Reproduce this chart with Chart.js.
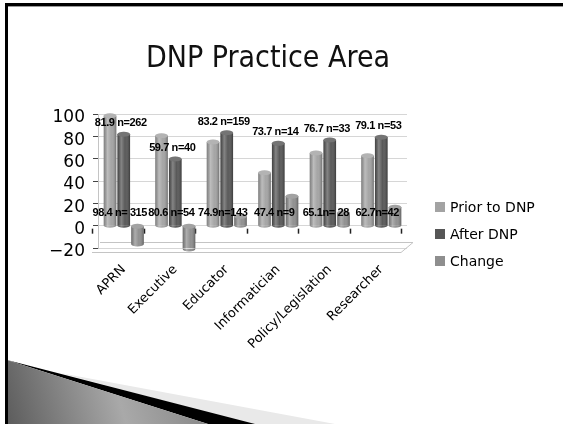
<!DOCTYPE html>
<html>
<head>
<meta charset="utf-8">
<script src="https://cdn.jsdelivr.net/npm/chart.js@4/dist/chart.umd.min.js"></script>
<style>
  html, body { margin: 0; padding: 0; background: #fff; }
  #wrap { position: relative; width: 563px; height: 424px; overflow: hidden; }
  #c { position: absolute; left: 0; top: 0; }
  #title {
    position: absolute; left: 0; top: 40px; width: 536px; text-align: center;
    font: 30px "DejaVu Sans Condensed", "DejaVu Sans", sans-serif; color: #111; line-height: 34px;
  }
  #legend { position: absolute; left: 435px; top: 193px; font: 14px "DejaVu Sans", sans-serif; color: #000; }
  .li { display: flex; align-items: center; height: 27px; }
  .sw { width: 10px; height: 10px; margin-right: 5px; }
</style>
</head>
<body>
<div id="wrap">
  <canvas id="c" width="563" height="424"></canvas>
  <div id="title">DNP Practice Area</div>
  <div id="legend"></div>
</div>
<script>
// Practice areas and percentages before / after the DNP
const categories = ['APRN', 'Executive', 'Educator', 'Informatician', 'Policy/Legislation', 'Researcher'];
const priorToDNP = [98.4, 80.6, 74.9, 47.4, 65.1, 62.7];
const afterDNP   = [81.9, 59.7, 83.2, 73.7, 76.7, 79.1];
const change     = [-16.5, -20.9, 8.3, 26.3, 11.6, 16.4];
const priorN     = [315, 54, 143, 9, 28, 42];
const afterN     = [262, 40, 159, 14, 33, 53];
const priorSep   = [' n= ', ' n=', 'n=', ' n=', 'n= ', 'n='];
const afterSep   = [' n=', ' n=', ' n=', ' n=', ' n=', ' n='];
const yTicks     = [-20, 0, 20, 40, 60, 80, 100];
const seriesNames  = ['Prior to DNP', 'After DNP', 'Change'];
const seriesColors = ['#a3a3a3', '#565656', '#8e8e8e'];
const priorLabelLevel = 11;

// slide frame and the shaded wedge in the lower-left corner
const slideDecor = {
  id: 'slideDecor',
  beforeDraw(chart) {
    const c = chart.ctx;
    c.save();
    // light sliver
    c.beginPath();
    c.moveTo(60, 373); c.lineTo(335, 424); c.lineTo(250, 424); c.closePath();
    c.fillStyle = '#e9e9e9'; c.fill();
    // black band
    c.beginPath();
    c.moveTo(7, 360); c.lineTo(255, 424); c.lineTo(208, 424); c.closePath();
    c.fillStyle = '#000'; c.fill();
    // grey gradient wedge
    const g = c.createLinearGradient(7, 424, 190, 370);
    g.addColorStop(0, '#5c5c5c'); g.addColorStop(0.6, '#a9a9a9'); g.addColorStop(1, '#8a8a8a');
    c.beginPath();
    c.moveTo(7, 360); c.lineTo(208, 424); c.lineTo(7, 424); c.closePath();
    c.fillStyle = g; c.fill();
    // frame
    c.fillStyle = '#000';
    c.fillRect(5, 3, 558, 3);
    c.fillRect(5, 3, 3, 421);
    c.fillStyle = '#9a9a9a';
    c.fillRect(8, 6, 555, 1);
    c.restore();
  }
};

// floor slab under the bars and zero-level tick marks
const floorAndTicks = {
  id: 'floorAndTicks',
  beforeDatasetsDraw(chart) {
    const c = chart.ctx, xs = chart.scales.x, ys = chart.scales.y, a = chart.chartArea;
    const yf = ys.getPixelForValue(-20);
    c.save();
    c.strokeStyle = '#c4c4c4'; c.lineWidth = 1;
    c.beginPath();
    c.moveTo(a.left - 6, yf + 4.5); c.lineTo(a.right - 6, yf + 4.5);
    c.lineTo(a.right + 6, yf - 5.5); c.lineTo(a.left + 2, yf - 5.5);
    c.stroke();
    const step = xs.getPixelForValue(1) - xs.getPixelForValue(0);
    const y0 = ys.getPixelForValue(0);
    c.strokeStyle = '#222'; c.lineWidth = 1.5;
    for (let i = 0; i <= categories.length; i++) {
      const x = Math.round(xs.getPixelForValue(0) - step / 2 + i * step - 6) + 0.5;
      c.beginPath(); c.moveTo(x, y0 + 3); c.lineTo(x, y0 + 8); c.stroke();
    }
    c.restore();
  }
};

// rounded, shaded look for each bar
const cylinders = {
  id: 'cylinders',
  afterDatasetsDraw(chart) {
    const c = chart.ctx;
    chart.data.datasets.forEach((ds, di) => {
      chart.getDatasetMeta(di).data.forEach(bar => {
        const p = bar.getProps(['x', 'y', 'base', 'width'], true);
        const l = p.x - p.width / 2, r = p.x + p.width / 2;
        const top = Math.min(p.y, p.base), bot = Math.max(p.y, p.base);
        const rx = p.width / 2, ry = 2.5;
        c.save();
        const g = c.createLinearGradient(l, 0, r, 0);
        g.addColorStop(0, 'rgba(0,0,0,0.22)');
        g.addColorStop(0.3, 'rgba(255,255,255,0.28)');
        g.addColorStop(0.6, 'rgba(255,255,255,0.02)');
        g.addColorStop(1, 'rgba(0,0,0,0.32)');
        c.fillStyle = ds.backgroundColor;
        c.beginPath(); c.ellipse(p.x, bot, rx, ry, 0, 0, Math.PI); c.fill();
        c.fillStyle = g;
        c.beginPath();
        c.moveTo(l, top); c.lineTo(l, bot); c.ellipse(p.x, bot, rx, ry, 0, Math.PI, 0, true); c.lineTo(r, top); c.closePath();
        c.fill();
        c.fillStyle = ds.backgroundColor;
        c.beginPath(); c.ellipse(p.x, top, rx, ry, 0, 0, 2 * Math.PI); c.fill();
        c.fillStyle = 'rgba(255,255,255,0.18)';
        c.fill();
        c.restore();
      });
    });
  }
};

// value / count captions
const valueLabels = {
  id: 'valueLabels',
  afterDatasetsDraw(chart) {
    const c = chart.ctx, xs = chart.scales.x, ys = chart.scales.y;
    c.save();
    c.font = 'bold 11px "Liberation Sans", Arial, sans-serif';
    c.letterSpacing = '-0.4px';
    c.fillStyle = '#000'; c.textAlign = 'center'; c.textBaseline = 'middle';
    categories.forEach((cat, i) => {
      const cx = xs.getPixelForValue(i);
      c.fillText(afterDNP[i].toFixed(1) + afterSep[i] + afterN[i], cx - 3, ys.getPixelForValue(afterDNP[i]) - 11);
      c.fillText(priorToDNP[i].toFixed(1) + priorSep[i] + priorN[i], cx - 4, ys.getPixelForValue(priorLabelLevel));
    });
    c.restore();
  }
};

const fmtTick = v => (v < 0 ? '\u2212' + Math.abs(v) : String(v));
const seriesData = [priorToDNP, afterDNP, change];

const chart = new Chart(document.getElementById('c'), {
  type: 'bar',
  data: {
    labels: categories,
    datasets: seriesNames.map((name, i) => ({
      label: name, data: seriesData[i], backgroundColor: seriesColors[i], borderWidth: 0
    }))
  },
  options: {
    responsive: false,
    animation: false,
    layout: { padding: { left: 0, right: 156, top: 114, bottom: 0 } },
    datasets: { bar: { categoryPercentage: 0.8, barPercentage: 0.92 } },
    plugins: { legend: { display: false }, title: { display: false }, tooltip: { enabled: false } },
    scales: {
      y: {
        min: -20, max: 100,
        afterBuildTicks: s => { s.ticks = yTicks.map(v => ({ value: v })); },
        afterFit: s => { s.width = 98; },
        ticks: { font: { family: 'DejaVu Sans', size: 17 }, color: '#000', padding: 8, labelOffset: 4, autoSkip: false, callback: v => fmtTick(v) },
        grid: { color: '#d6d6d6', tickColor: '#444', tickLength: 5 },
        border: { color: '#c4c4c4' }
      },
      x: {
        afterFit: s => { s.height = 176; },
        ticks: { font: { family: 'DejaVu Sans', size: 13 }, color: '#000', minRotation: 45, maxRotation: 45, padding: 14, autoSkip: false },
        grid: { display: false, drawTicks: false },
        border: { display: false }
      }
    }
  },
  plugins: [slideDecor, floorAndTicks, cylinders, valueLabels]
});

// legend from the series names and colours
const lg = document.getElementById('legend');
seriesNames.forEach((n, i) => {
  const row = document.createElement('div'); row.className = 'li';
  const sw = document.createElement('span'); sw.className = 'sw'; sw.style.background = seriesColors[i];
  const t = document.createElement('span'); t.textContent = n;
  row.appendChild(sw); row.appendChild(t); lg.appendChild(row);
});
</script>
</body>
</html>
